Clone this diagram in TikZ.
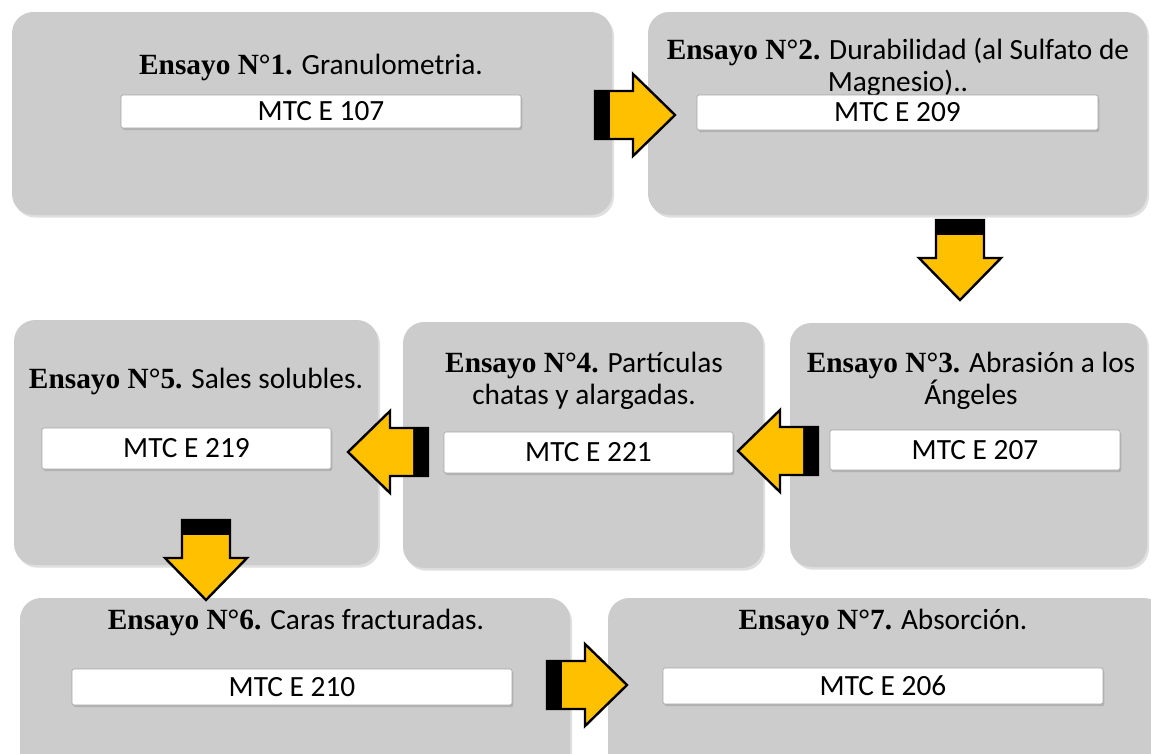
\documentclass[tikz,border=0pt]{standalone}
\usepackage{fontspec}
\setmainfont{Carlito}
\newfontfamily\tnr{Liberation Serif}
\usetikzlibrary{shadows}
\definecolor{gris}{HTML}{CCCCCC}
\definecolor{amarillo}{HTML}{FFC000}
\tikzset{
  caja/.style={rectangle, rounded corners=16pt, fill=gris, inner sep=0pt,
    drop shadow={shadow xshift=1.5pt, shadow yshift=-2pt, opacity=0.25}},
  codigo/.style={rectangle, rounded corners=1.5pt, fill=white, draw=black!35, line width=0.5pt,
    inner sep=0pt, font=\fontsize{22}{24}\selectfont,
    drop shadow={shadow xshift=1pt, shadow yshift=-1.5pt, opacity=0.35}},
  titulo/.style={align=center, inner sep=0pt, font=\fontsize{22}{24}\selectfont},
  flecha/.pic={
    \fill[black] (-80,-24) rectangle (-65,24);
    \fill[amarillo] (-65,-24) -- (-42,-24) -- (-42,-41) -- (0,0) -- (-42,41) -- (-42,24) -- (-65,24) -- cycle;
    \draw[line width=1.8pt, line join=miter] (-80,-24) -- (-42,-24) -- (-42,-41) -- (0,0) -- (-42,41) -- (-42,24) -- (-80,24) -- cycle;
  }
}
\newcommand{\ens}[1]{{\tnr\bfseries Ensayo N°#1.}}
\begin{document}
\begin{tikzpicture}[x=0.75pt,y=-0.75pt]
\fill[white] (0,0) rectangle (1151,753);
\clip (0,0) rectangle (1151,753);

\node[caja, minimum width=450pt, minimum height=152.25pt] (e1) at (312,113.5) {};
\node[caja, minimum width=374.25pt, minimum height=152.25pt] (e2) at (897.5,113.5) {};
\node[caja, minimum width=267.75pt, minimum height=183pt] (e3) at (968.5,445) {};
\node[caja, minimum width=270pt, minimum height=184.5pt] (e4) at (583,445) {};
\node[caja, minimum width=273pt, minimum height=183.75pt] (e5) at (196,442.5) {};
\node[caja, minimum width=412.5pt, minimum height=151.5pt] (e6) at (295,699) {};
\node[caja, minimum width=417.75pt, minimum height=151.5pt] (e7) at (886.5,699) {};

\node[titulo] (t1) at (311,67) {\ens{1} Granulometria.};
\node[titulo] (t2) at (898,67) {\ens{2} Durabilidad (al Sulfato de\\Magnesio)..};
\node[titulo] (t3) at (971,381) {\ens{3} Abrasión a los\\Ángeles};
\node[titulo] (t4) at (584,381) {\ens{4} Partículas\\chatas y alargadas.};
\node[titulo] (t5) at (196,381) {\ens{5} Sales solubles.};
\node[titulo] (t6) at (296,622) {\ens{6} Caras fracturadas.};
\node[titulo] (t7) at (883,622) {\ens{7} Absorción.};

\node[codigo, minimum width=300pt, minimum height=24.75pt] (m1) at (321,111.5) {MTC E 107};
\node[codigo, minimum width=300.75pt, minimum height=26.25pt] (m2) at (897.5,112.5) {MTC E 209};
\node[codigo, minimum width=217.5pt, minimum height=30pt] (m3) at (975,450) {MTC E 207};
\node[codigo, minimum width=216.75pt, minimum height=30.75pt] (m4) at (588.5,452.5) {MTC E 221};
\node[codigo, minimum width=216.75pt, minimum height=30.75pt] (m5) at (186.5,448.5) {MTC E 219};
\node[codigo, minimum width=330pt, minimum height=27pt] (m6) at (292,687) {MTC E 210};
\node[codigo, minimum width=330pt, minimum height=27pt] (m7) at (883,686) {MTC E 206};

\pic at (675,115) {flecha};
\pic[rotate=-90] at (960,300) {flecha};
\pic[rotate=180] at (738,451) {flecha};
\pic[rotate=180] at (348,452) {flecha};
\pic[rotate=-90] at (206,600) {flecha};
\pic at (627,685) {flecha};
\end{tikzpicture}
\end{document}
